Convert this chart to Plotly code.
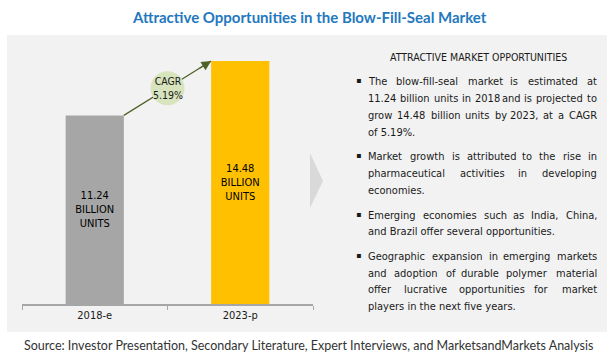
import plotly.graph_objects as go

# ---- data ----
categories = ["2018-e", "2023-p"]
values = [11.24, 14.48]
bar_labels = ["11.24<br>BILLION<br>UNITS", "14.48<br>BILLION<br>UNITS"]
bar_colors = ["#a6a6a6", "#ffc000"]
cagr_text = "CAGR<br>5.19%"
title_text = "Attractive Opportunities in the Blow-Fill-Seal Market"
source_text = "Source: Investor Presentation, Secondary Literature, Expert Interviews, and MarketsandMarkets Analysis"
panel_heading = "ATTRACTIVE MARKET OPPORTUNITIES"
bullets = [
    ["The blow-fill-seal market is estimated at",
     "11.24 billion units in 2018 and is projected to",
     "grow 14.48 billion units by 2023, at a CAGR",
     "of 5.19%."],
    ["Market growth is attributed to the rise in",
     "pharmaceutical activities in developing",
     "economies."],
    ["Emerging economies such as India, China,",
     "and Brazil offer several opportunities."],
    ["Geographic expansion in emerging markets",
     "and adoption of durable polymer material",
     "offer lucrative opportunities for market",
     "players in the next five years."],
]

W, H = 613, 360
NARROW = "DejaVu Sans Condensed, DejaVu Sans, sans-serif"
TXT = "#1a1a1a"
ARROW = "#4f6228"

# approximate DejaVu Sans advance widths (em); condensed ~0.9 of these
_w = {' ': .318, 'a': .613, 'b': .635, 'c': .550, 'd': .635, 'e': .615, 'f': .352,
      'g': .635, 'h': .634, 'i': .278, 'j': .278, 'k': .579, 'l': .278, 'm': .974,
      'n': .634, 'o': .612, 'p': .635, 'q': .635, 'r': .411, 's': .521, 't': .392,
      'u': .634, 'v': .592, 'w': .818, 'x': .592, 'y': .592, 'z': .525,
      '.': .318, ',': .318, '-': .361, '%': .950,
      'A': .684, 'B': .686, 'C': .698, 'D': .770, 'E': .632, 'G': .775, 'I': .295,
      'M': .863, 'R': .695, 'S': .635}


def text_w(s, size):
    return sum(_w.get(c, .636 if c.isdigit() else .65) for c in s) * 0.9 * size


def px(x):
    return x / W


def py(y):
    return 1 - y / H


fig = go.Figure()
fig.add_trace(go.Bar(
    x=categories, y=values, width=0.4,
    marker=dict(color=bar_colors, line=dict(width=0)),
    text=bar_labels, textposition="inside", insidetextanchor="middle",
    textangle=0,
    textfont=dict(family=NARROW, size=11, color="#000000"),
    hoverinfo="skip",
))

shapes = []
shapes.append(dict(type="rect", xref="paper", yref="paper", layer="below",
                   x0=px(7), x1=px(607), y0=py(332), y1=py(35),
                   fillcolor="#f2f2f2", line=dict(width=0)))
shapes.append(dict(type="path", xref="paper", yref="paper", layer="below",
                   path=f"M {px(310)},{py(153)} L {px(323)},{py(181)} L {px(310)},{py(208)} Z",
                   fillcolor="#d9d9d9", line=dict(width=0)))

# growth arrow: line from top-right of first bar to top-left of second bar
x_start, y_start = 0 + 0.2, values[0]
x_end, y_end = 1 - 0.2, values[1]
shapes.append(dict(type="line", xref="x", yref="y", layer="above",
                   x0=x_start, y0=y_start, x1=x_end, y1=y_end,
                   line=dict(color=ARROW, width=1.2)))
xm, ym = (x_start + x_end) / 2, (y_start + y_end) / 2
shapes.append(dict(type="circle", xref="x", yref="y",
                   xsizemode="pixel", ysizemode="pixel",
                   xanchor=xm, yanchor=ym, x0=-17, x1=17, y0=-17, y1=17,
                   fillcolor="#d7e4bd", line=dict(width=0), layer="above"))
t = 0.85
annotations = [dict(x=x_end, y=y_end,
                    ax=x_start + t * (x_end - x_start), ay=y_start + t * (y_end - y_start),
                    xref="x", yref="y", axref="x", ayref="y",
                    text="", showarrow=True, arrowhead=2, arrowsize=1.6,
                    arrowwidth=1.2, arrowcolor=ARROW, standoff=0)]
annotations.append(dict(x=xm, y=ym, xref="x", yref="y", text=cagr_text,
                        xanchor="center", yanchor="middle",
                        showarrow=False, font=dict(family=NARROW, size=10.5, color=TXT),
                        align="center"))


def ann(x, y, text, size, family=NARROW, color=TXT, xanchor="center"):
    annotations.append(dict(x=px(x), y=py(y), xref="paper", yref="paper",
                            xanchor=xanchor, yanchor="middle", text=text,
                            showarrow=False, borderpad=0,
                            font=dict(family=family, size=size, color=color)))


ann(309, 17, f"<b>{title_text}</b>", 15, family="Lato, sans-serif", color="#2478be")
ann(308, 345, source_text, 12.5, family="Lato, sans-serif", color="#333333")
ann(478, 57, panel_heading, 10.5)

# bullets (justified by placing words individually)
FS = 11
X0, X1 = 367, 598
y = 82
for bi, lines in enumerate(bullets):
    ann(358, y - 1, "▪", 8, family="DejaVu Sans")
    for li, line in enumerate(lines):
        last = li == len(lines) - 1
        words = line.split(" ")
        if last or len(words) < 2:
            ann(X0, y, line, FS, xanchor="left")
        else:
            ws = [text_w(w, FS) for w in words]
            gap = max((X1 - X0 - sum(ws)) / (len(words) - 1), text_w(" ", FS))
            n = len(words)
            half = (n + 1) // 2
            xpos = X0
            for i in range(half):
                ann(xpos, y, words[i], FS, xanchor="left")
                xpos += ws[i] + gap
            xpos = X1
            for i in range(n - 1, half - 1, -1):
                ann(xpos, y, words[i], FS, xanchor="right")
                xpos -= ws[i] + gap
        if not last:
            y += 16.8
    y += 24.5

fig.update_layout(
    width=W, height=H, margin=dict(l=0, r=0, t=0, b=0),
    paper_bgcolor="#ffffff", plot_bgcolor="rgba(0,0,0,0)",
    showlegend=False, shapes=shapes, annotations=annotations,
    xaxis=dict(domain=[px(22), px(313)], type="category", range=[-0.5, 1.5],
               showline=True, linecolor="#a6a6a6", linewidth=1.5,
               ticks="outside", tickson="boundaries", ticklen=4,
               tickcolor="#a6a6a6", tickwidth=1, showgrid=False, zeroline=False,
               tickfont=dict(family=NARROW, size=11, color=TXT), fixedrange=True),
    yaxis=dict(domain=[1 - 304 / H, 1 - 35.5 / H], range=[0, 16], visible=False,
               showgrid=False, zeroline=False, fixedrange=True),
)
fig.write_html("out.html", config={"displayModeBar": False},
               post_script="document.body.style.margin='0';")
